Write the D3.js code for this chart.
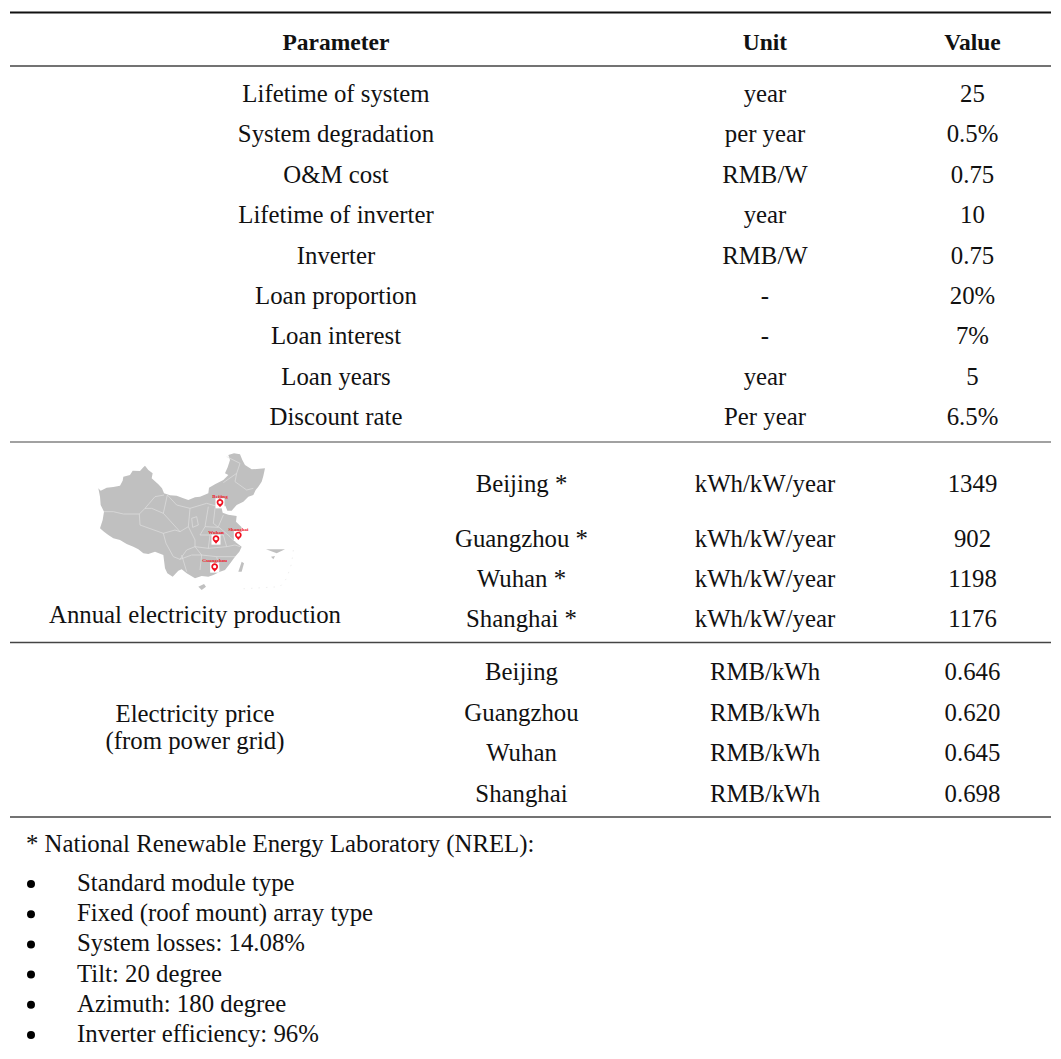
<!DOCTYPE html>
<html>
<head>
<meta charset="utf-8">
<script src="https://cdn.jsdelivr.net/npm/d3@7"></script>
<style>
  html, body { margin: 0; padding: 0; background: #fff; }
  svg { display: block; }
  text { font-family: "Liberation Serif", serif; font-size: 24.8px; fill: #111; }
  .head { font-weight: bold; font-size: 23.5px; }
  .pinlabel { font-size: 5px; font-weight: bold; fill: #f01020; }
</style>
</head>
<body>
<div id="container"></div>
<script>
// table contents
var headers = ["Parameter", "Unit", "Value"];
var paramNames = ["Lifetime of system", "System degradation", "O&M cost", "Lifetime of inverter", "Inverter",
  "Loan proportion", "Loan interest", "Loan years", "Discount rate"];
var paramUnits = ["year", "per year", "RMB/W", "year", "RMB/W", "-", "-", "year", "Per year"];
var paramValues = ["25", "0.5%", "0.75", "10", "0.75", "20%", "7%", "5", "6.5%"];

var prodCities = ["Beijing *", "Guangzhou *", "Wuhan *", "Shanghai *"];
var prodUnits = ["kWh/kW/year", "kWh/kW/year", "kWh/kW/year", "kWh/kW/year"];
var prodValues = ["1349", "902", "1198", "1176"];

var priceCities = ["Beijing", "Guangzhou", "Wuhan", "Shanghai"];
var priceUnits = ["RMB/kWh", "RMB/kWh", "RMB/kWh", "RMB/kWh"];
var priceValues = ["0.646", "0.620", "0.645", "0.698"];

var noteTitle = "* National Renewable Energy Laboratory (NREL):";
var noteItems = ["Standard module type", "Fixed (roof mount) array type", "System losses: 14.08%",
  "Tilt: 20 degree", "Azimuth: 180 degree", "Inverter efficiency: 96%"];

// map, in units of the little picture (0-720 by 0-450)
var mapOutline = [[55,145],[62,152],[80,143],[100,141],[120,137],[128,122],[130,110],[150,105],[158,92],[180,93],[190,82],
  [195,77],[205,90],[218,100],[215,115],[235,133],[246,145],[252,160],[270,166],[290,167],[310,175],[325,180],[345,172],
  [360,170],[385,160],[387,143],[405,133],[430,120],[445,105],[435,100],[443,82],[450,60],[445,45],[462,40],[480,43],
  [487,60],[495,75],[515,88],[555,85],[550,108],[545,125],[535,140],[527,150],[520,165],[505,170],[490,185],[470,195],
  [455,212],[442,212],[436,197],[425,205],[428,218],[445,224],[470,228],[468,245],[485,262],[478,285],[465,305],
  [485,320],[478,335],[465,350],[452,368],[435,390],[420,395],[400,405],[385,410],[365,408],[345,415],[320,400],
  [305,388],[295,392],[278,410],[262,400],[255,385],[250,345],[225,335],[205,342],[190,340],[175,328],[160,320],
  [140,312],[120,300],[100,295],[85,285],[72,275],[60,265],[68,240],[72,215],[62,195],[60,170]];
var mapIslands = [
  [[355,440],[372,432],[378,440],[365,450]],
  [[475,395],[485,365],[492,370],[485,395]],
  [[558,328],[615,328],[590,340]],
  [[573,350],[585,348],[580,358]]
];
var mapDashes = [[640,330],[635,370],[620,415],[600,440],[480,447]];
var mapBorders = [
  [[252,165],[225,170],[195,205],[215,205],[250,220],[262,165]],
  [[72,215],[100,215],[130,222],[178,222],[195,205]],
  [[178,222],[180,255],[250,280],[285,270],[300,275]],
  [[250,280],[258,310],[280,350],[300,358]],
  [[300,358],[320,330],[345,320]],
  [[262,165],[290,195],[330,205],[380,190],[415,200]],
  [[430,128],[470,100],[465,125],[500,150],[520,145]],
  [[440,50],[480,70],[470,100]],
  [[330,205],[325,260],[345,300],[345,320],[385,325],[440,320],[465,315],[480,320]],
  [[385,200],[375,260],[360,285],[430,285]],
  [[430,225],[415,260],[450,290]],
  [[300,358],[335,345],[365,345],[410,350],[465,350]],
  [[345,320],[365,345]],
  [[410,350],[420,395]],
  [[365,345],[360,390]],
  [[250,220],[300,275],[325,260]],
  [[335,235],[350,230],[355,255],[338,262],[335,235]],
  [[305,345],[320,395]],
  [[405,205],[400,250],[415,262]],
  [[375,260],[415,262]],
  [[450,290],[465,305]],
  [[430,285],[440,320]],
  [[385,325],[390,285]]
];
var pinNames = ["Beijing", "Wuhan", "Shanghai", "Guangzhou"];
var pinX = [420, 408, 475, 404];
var pinY = [187, 296, 285, 380];

var width = 1061, height = 1059;
var left = 10, right = 1051;

var svg = d3.select("#container").append("svg")
  .attr("width", width)
  .attr("height", height);

// columns
var colX = { param: 336, city: 521.5, unit: 765, value: 972.5, group: 195 };

// row layout
var paramY = d3.scaleLinear().domain([0, 8]).range([102, 425]);
var prodY = d3.scaleOrdinal().domain([0, 1, 2, 3]).range([492, 547, 587, 627]);
var priceY = d3.scaleLinear().domain([0, 3]).range([680, 802]);
var noteY = d3.scaleLinear().domain([0, 5]).range([891, 1042]);

function column(cls, values, x, y) {
  svg.append("g").selectAll("text")
    .data(values)
    .enter().append("text")
    .attr("class", cls)
    .attr("x", x)
    .attr("y", function (d, i) { return y(i); })
    .attr("text-anchor", "middle")
    .text(function (d) { return d; });
}

// rules
var rules = [
  { y: 12.5, w: 2 }, { y: 66, w: 1.3 }, { y: 442, w: 1.1 }, { y: 642.5, w: 1.3 }, { y: 817, w: 1.3 }
];
svg.append("g").selectAll("line")
  .data(rules)
  .enter().append("line")
  .attr("x1", left)
  .attr("x2", right)
  .attr("y1", function (d) { return d.y; })
  .attr("y2", function (d) { return d.y; })
  .attr("stroke", function (d) { return d.w > 1.5 ? "#111" : "#444"; })
  .attr("stroke-width", function (d) { return d.w; });

// header
var headX = [colX.param, colX.unit, colX.value];
svg.append("g").selectAll("text")
  .data(headers)
  .enter().append("text")
  .attr("class", "head")
  .attr("x", function (d, i) { return headX[i]; })
  .attr("y", 50)
  .attr("text-anchor", "middle")
  .text(function (d) { return d; });

column("cell", paramNames, colX.param, paramY);
column("cell", paramUnits, colX.unit, paramY);
column("cell", paramValues, colX.value, paramY);

column("cell", prodCities, colX.city, prodY);
column("cell", prodUnits, colX.unit, prodY);
column("cell", prodValues, colX.value, prodY);

column("cell", priceCities, colX.city, priceY);
column("cell", priceUnits, colX.unit, priceY);
column("cell", priceValues, colX.value, priceY);

// group labels on the left
svg.append("text").attr("x", colX.group).attr("y", 623).attr("text-anchor", "middle")
  .text("Annual electricity production");
svg.append("text").attr("x", colX.group).attr("y", 722).attr("text-anchor", "middle")
  .text("Electricity price");
svg.append("text").attr("x", colX.group).attr("y", 749).attr("text-anchor", "middle")
  .text("(from power grid)");

// map
var mx = d3.scaleLinear().domain([0, 720]).range([80, 320]);
var my = d3.scaleLinear().domain([0, 450]).range([440, 590]);
var mapLine = d3.line().x(function (d) { return mx(d[0]); }).y(function (d) { return my(d[1]); });

var map = svg.append("g");
map.append("path")
  .attr("d", mapLine(mapOutline) + "Z")
  .attr("fill", "#c0c0c0");
map.selectAll(".island")
  .data(mapIslands)
  .enter().append("path")
  .attr("class", "island")
  .attr("d", function (d) { return mapLine(d) + "Z"; })
  .attr("fill", "#c0c0c0");
map.append("path")
  .attr("d", mapLine(mapDashes))
  .attr("fill", "none")
  .attr("stroke", "#e2e2e2")
  .attr("stroke-width", 0.6)
  .attr("stroke-dasharray", "1.5,6");
map.selectAll(".border")
  .data(mapBorders)
  .enter().append("path")
  .attr("class", "border")
  .attr("d", mapLine)
  .attr("fill", "none")
  .attr("stroke", "#e4e4e4")
  .attr("stroke-width", 0.6);

var pins = map.selectAll(".pin")
  .data(pinNames)
  .enter().append("g")
  .attr("class", "pin")
  .attr("transform", function (d, i) { return "translate(" + mx(pinX[i]) + "," + my(pinY[i]) + ")"; });
pins.append("rect").attr("x", -4.5).attr("y", -4).attr("width", 9).attr("height", 10).attr("fill", "#fff");
pins.append("path").attr("d", "M-2.4,2L0,5L2.4,2Z").attr("fill", "#f01020");
pins.append("circle").attr("r", 2.5).attr("fill", "#fff").attr("stroke", "#f01020").attr("stroke-width", 1.7);
pins.append("text").attr("class", "pinlabel").attr("y", -4.5).attr("text-anchor", "middle")
  .text(function (d) { return d; });

// notes under the table
svg.append("text").attr("x", 26).attr("y", 852).text(noteTitle);
svg.append("g").selectAll("circle")
  .data(noteItems)
  .enter().append("circle")
  .attr("cx", 31)
  .attr("cy", function (d, i) { return noteY(i) - 7; })
  .attr("r", 4)
  .attr("fill", "#000");
svg.append("g").selectAll("text")
  .data(noteItems)
  .enter().append("text")
  .attr("x", 77)
  .attr("y", function (d, i) { return noteY(i); })
  .text(function (d) { return d; });
</script>
</body>
</html>
